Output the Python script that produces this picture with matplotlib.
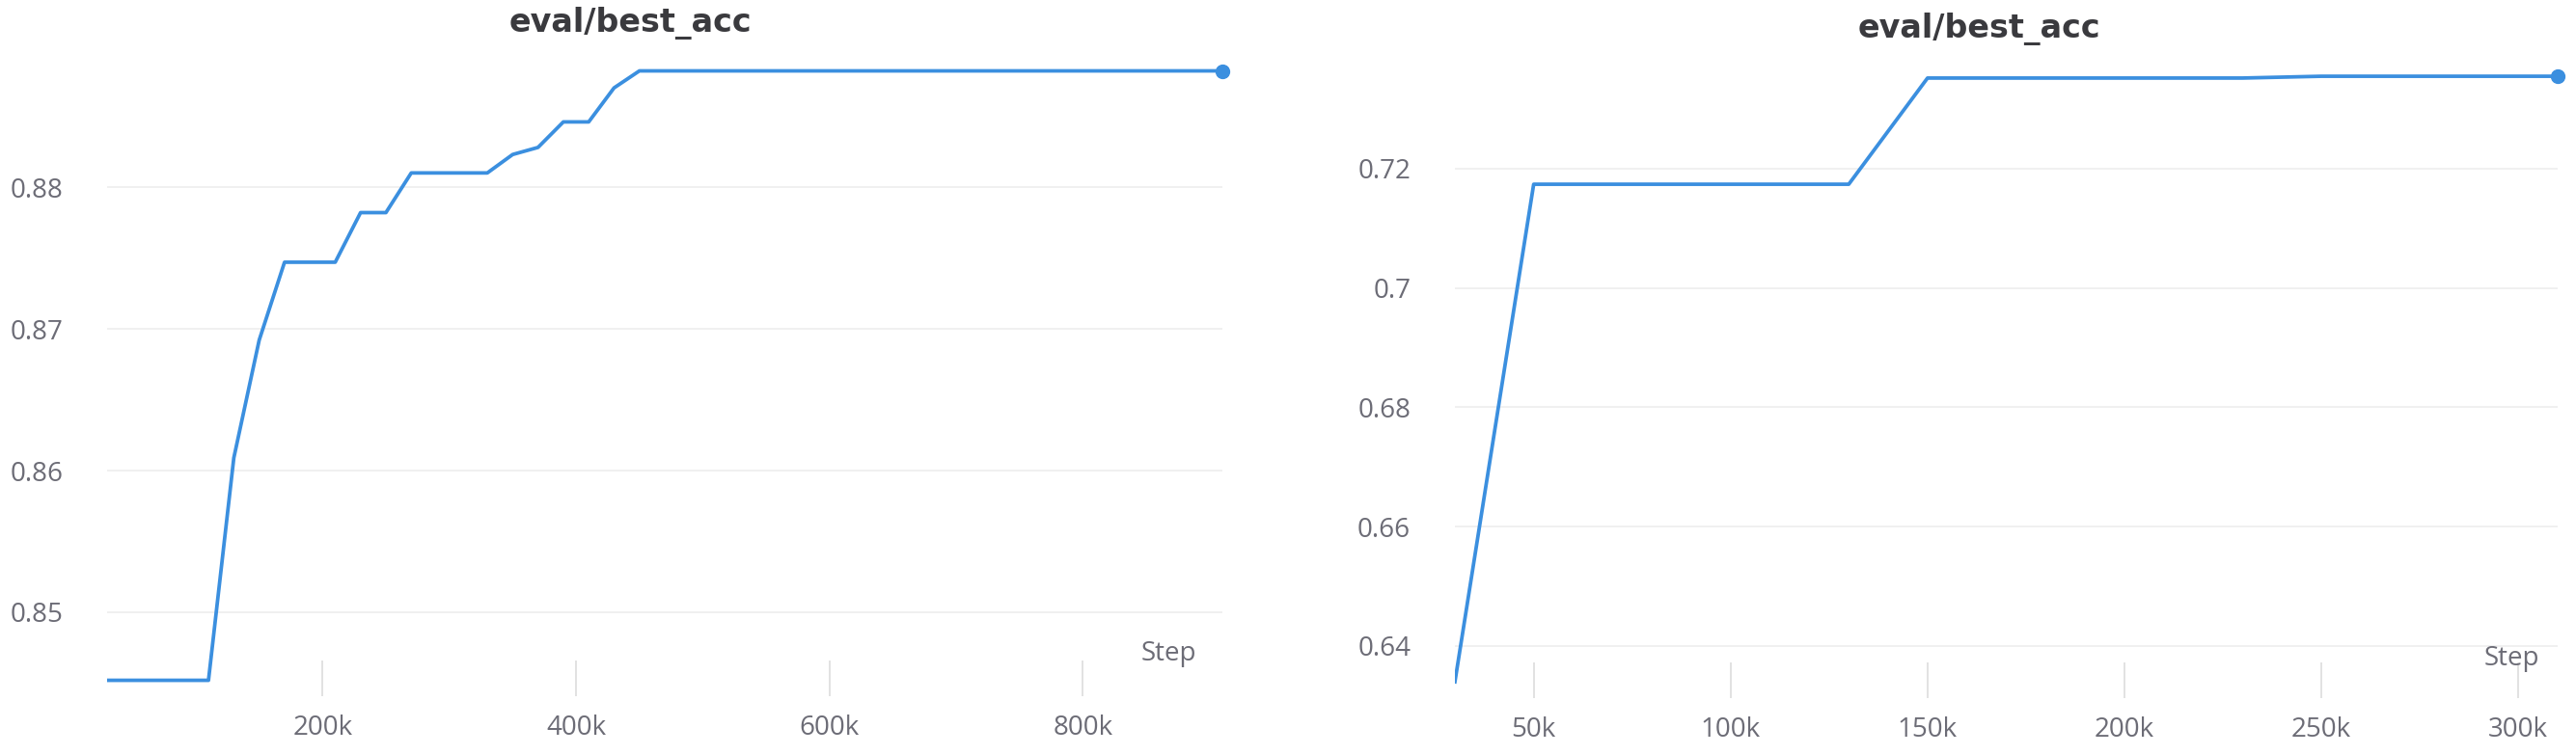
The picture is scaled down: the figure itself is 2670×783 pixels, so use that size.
import matplotlib
matplotlib.use('Agg')
import matplotlib.pyplot as plt

# left run: step (k) and best accuracy
left_steps = [30, 110, 130, 150, 170, 210, 230, 250, 270, 330, 350, 370, 390, 410, 430, 450, 910]
left_acc = [0.8452, 0.8452, 0.8609, 0.8692, 0.8747, 0.8747, 0.8782, 0.8782, 0.8810,
            0.8810, 0.8823, 0.8828, 0.8846, 0.8846, 0.8870, 0.8882, 0.8882]
left_xticks = [200, 400, 600, 800]
left_yticks = [0.85, 0.86, 0.87, 0.88]

# right run
right_steps = [30, 50, 130, 150, 230, 250, 310]
right_acc = [0.6340, 0.7174, 0.7174, 0.7352, 0.7352, 0.7355, 0.7355]
right_xticks = [50, 100, 150, 200, 250, 300]
right_yticks = [0.64, 0.66, 0.68, 0.70, 0.72]
right_ylabels = ['0.64', '0.66', '0.68', '0.7', '0.72']

title = 'eval/best_acc'

W, H = 2670, 783
LINE = '#3b8fdf'
TICK = '#6c6c76'


def px_axes(fig, left, top, right, bottom):
    return fig.add_axes([left / W, 1 - bottom / H, (right - left) / W, (bottom - top) / H])


def draw_panel(ax, steps, acc, xticks, yticks, ylabels, xlim, ylim):
    for y in yticks:
        ax.axhline(y, color='#efefef', linewidth=1.3, zorder=1)
    ax.plot(steps, acc, color=LINE, linewidth=2.7, zorder=3, solid_joinstyle='round')
    ax.plot(steps[-1], acc[-1], 'o', color=LINE, markersize=10, zorder=4, clip_on=False)

    ax.set_xlim(*xlim)
    ax.set_ylim(*ylim)
    ax.set_xticks(xticks)
    ax.set_xticklabels([f'{v}k' for v in xticks])
    ax.set_yticks(yticks)
    ax.set_yticklabels(ylabels)

    ax.tick_params(axis='x', direction='in', length=26.5, width=1.4, color='#e2e2e2',
                   pad=14, labelsize=20, labelcolor=TICK)
    ax.tick_params(axis='y', length=0, pad=33, labelsize=20, labelcolor=TICK)
    for lab in ax.get_xticklabels() + ax.get_yticklabels():
        lab.set_fontfamily('Open Sans')

    for s in ax.spines.values():
        s.set_visible(False)
    ax.set_facecolor('none')


fig = plt.figure(figsize=(W / 100, H / 100), dpi=100)

ax1 = px_axes(fig, 111, 50, 1267, 722)
draw_panel(ax1, left_steps, left_acc, left_xticks, left_yticks,
           [f'{v:.2f}' for v in left_yticks], (30, 910), (0.84408, 0.88980))

ax2 = px_axes(fig, 1508, 50, 2651, 724)
draw_panel(ax2, right_steps, right_acc, right_xticks, right_yticks,
           right_ylabels, (30, 310), (0.63127, 0.74020))

# titles and the "Step" labels
fig.text(653 / W, 1 - 33 / H, title, ha='center', va='baseline', fontsize=24,
         fontweight='bold', color='#3a3a3e', family='DejaVu Sans')
fig.text(2051 / W, 1 - 39 / H, title, ha='center', va='baseline', fontsize=24,
         fontweight='bold', color='#3a3a3e', family='DejaVu Sans')
fig.text(1240 / W, 1 - 685 / H, 'Step', ha='right', va='baseline', fontsize=20,
         color=TICK, family='Open Sans')
fig.text(2632 / W, 1 - 690 / H, 'Step', ha='right', va='baseline', fontsize=20,
         color=TICK, family='Open Sans')

fig.savefig('out.png', dpi=100, facecolor='white')
